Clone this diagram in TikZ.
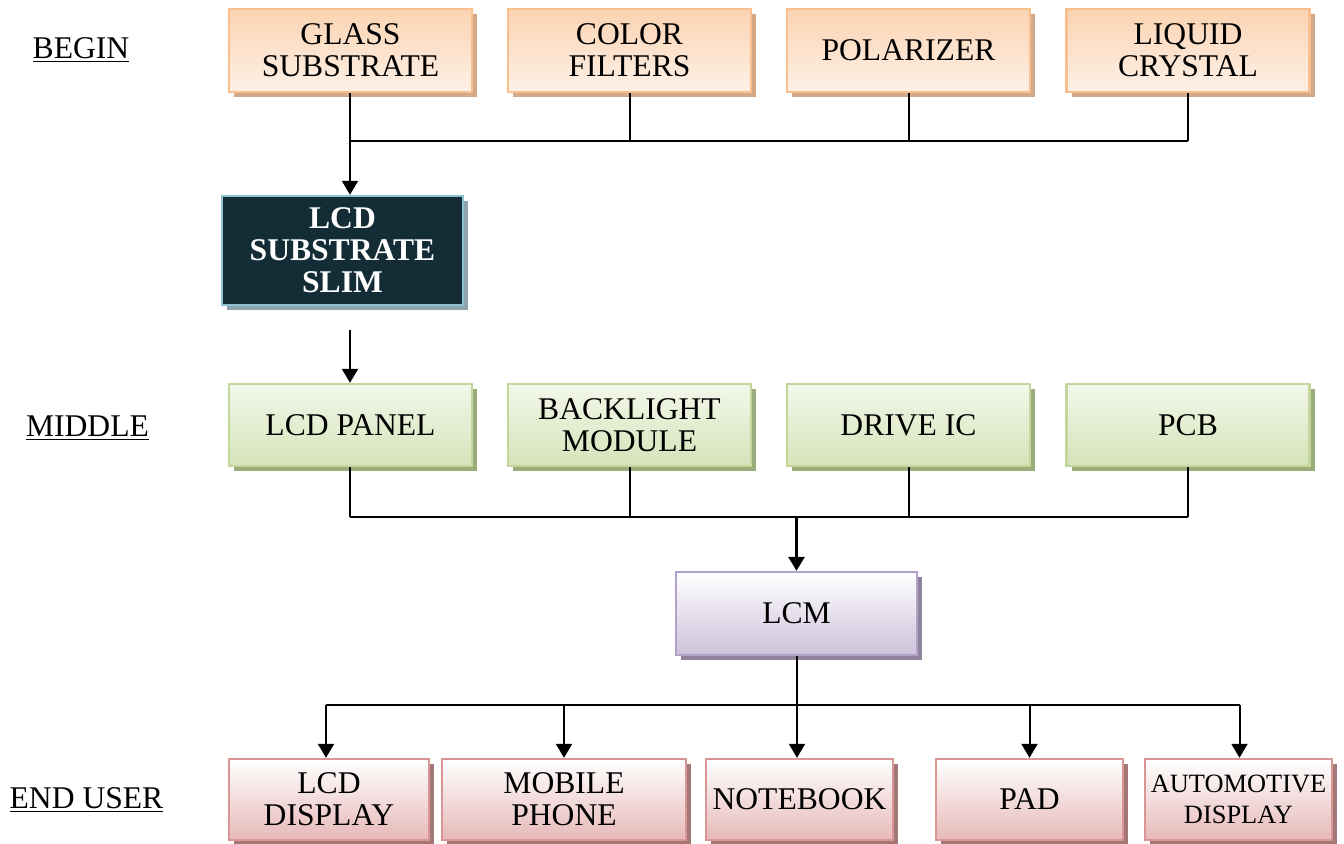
\documentclass[tikz,border=0pt]{standalone}
\usepackage{fontspec}
\setmainfont{Liberation Serif}
\usetikzlibrary{shadows,arrows.meta}
\definecolor{orB}{HTML}{F9BF8F}
\definecolor{orT}{HTML}{FBD3B2}
\definecolor{orL}{HTML}{FEF1E7}
\definecolor{orS}{HTML}{D3A987}
\definecolor{grB}{HTML}{C3D69B}
\definecolor{grT}{HTML}{F3F7EA}
\definecolor{grL}{HTML}{D5E3B9}
\definecolor{grS}{HTML}{9CAB7A}
\definecolor{dkF}{HTML}{132C36}
\definecolor{dkB}{HTML}{8CC4D2}
\definecolor{dkS}{HTML}{8FA4AF}
\definecolor{lcB}{HTML}{B3A2C8}
\definecolor{lcL}{HTML}{CDC2DB}
\definecolor{lcS}{HTML}{8F849B}
\definecolor{pkB}{HTML}{D99694}
\definecolor{pkL}{HTML}{E6B9B8}
\definecolor{pkS}{HTML}{A37776}
\tikzset{
  base/.style={draw, line width=1.2pt, inner sep=0pt, align=center,
    font=\fontsize{15.8}{16}\selectfont},
  orbox/.style={base, draw=orB, top color=orT, bottom color=orL,
    minimum width=121.5pt, minimum height=41.5pt,
    drop shadow={shadow xshift=2.5pt, shadow yshift=-2.5pt, fill=orS, opacity=1}},
  grbox/.style={base, draw=grB, top color=grT, bottom color=grL,
    minimum width=121.5pt, minimum height=41pt,
    drop shadow={shadow xshift=2.5pt, shadow yshift=-2.5pt, fill=grS, opacity=1}},
  dkbox/.style={base, draw=dkB, fill=dkF, text=white,
    font=\fontsize{15.8}{16}\selectfont\bfseries,
    minimum width=120.5pt, minimum height=54.5pt,
    drop shadow={shadow xshift=2.5pt, shadow yshift=-2.5pt, fill=dkS, opacity=1}},
  lcbox/.style={base, draw=lcB, top color=white, bottom color=lcL,
    minimum width=120.5pt, minimum height=41.5pt,
    drop shadow={shadow xshift=2.5pt, shadow yshift=-2.5pt, fill=lcS, opacity=1}},
  pkbox/.style={base, draw=pkB, top color=white, bottom color=pkL,
    minimum height=40.5pt,
    drop shadow={shadow xshift=2.5pt, shadow yshift=-2.5pt, fill=pkS, opacity=1}},
  lbl/.style={inner sep=0pt, font=\fontsize{15.8}{16}\selectfont},
  conn/.style={line width=1pt},
  arr/.style={line width=1pt, -{Triangle[width=8pt,length=7pt]}},
}
\begin{document}
\begin{tikzpicture}[x=0.5pt,y=-0.5pt]
\useasboundingbox (0,0) rectangle (1344,843);
% row 1
\node[orbox] (g1) at (350.5,50.5) {GLASS\\SUBSTRATE};
\node[orbox] (g2) at (629.5,50.5) {COLOR\\FILTERS};
\node[orbox] (g3) at (908.5,50.5) {POLARIZER};
\node[orbox] (g4) at (1188,50.5) {LIQUID\\CRYSTAL};
\node[dkbox] (sub) at (342.5,250.5) {LCD\\SUBSTRATE\\SLIM};
% row 2
\node[grbox] (m1) at (350.5,425) {LCD PANEL};
\node[grbox] (m2) at (629.5,425) {BACKLIGHT\\MODULE};
\node[grbox] (m3) at (908.5,425) {DRIVE IC};
\node[grbox] (m4) at (1188,425) {PCB};
\node[lcbox] (lcm) at (796.5,613.5) {LCM};
% row 3
\node[pkbox, minimum width=100pt] (e1) at (329,799.5) {LCD\\DISPLAY};
\node[pkbox, minimum width=122pt] (e2) at (564,799.5) {MOBILE\\PHONE};
\node[pkbox, minimum width=93.5pt] (e3) at (799.5,799.5) {NOTEBOOK};
\node[pkbox, minimum width=93.5pt] (e4) at (1029.5,799.5) {PAD};
\node[pkbox, minimum width=93.5pt, font=\fontsize{13.2}{15.5}\selectfont] (e5) at (1238.5,799.5) {AUTOMOTIVE\\DISPLAY};
% labels
\node[lbl] (lb1) at (81,50) {\underline{BEGIN}};
\node[lbl] (lb2) at (87.5,428) {\underline{MIDDLE}};
\node[lbl] (lb3) at (86.5,800) {\underline{END USER}};
% bus coordinates
\coordinate (bus1) at (350,141);
\coordinate (bus2) at (350,517);
\coordinate (bus3) at (797,705);
\coordinate (c1) at (350,330);
% top connectors
\draw[conn] (g1.south -| bus1) -- (bus1);
\draw[conn] (g2.south) -- (g2.south |- bus1);
\draw[conn] (g3.south) -- (g3.south |- bus1);
\draw[conn] (g4.south) -- (g4.south |- bus1);
\draw[conn] (bus1) -- (bus1 -| g4.south);
\draw[arr] (bus1) -- (bus1 |- sub.north);
\draw[arr] (c1) -- (c1 |- m1.north);
% middle connectors
\draw[conn] (m1.south -| bus2) -- (bus2);
\draw[conn] (m2.south) -- (m2.south |- bus2);
\draw[conn] (m3.south) -- (m3.south |- bus2);
\draw[conn] (m4.south) -- (m4.south |- bus2);
\draw[conn] (bus2) -- (bus2 -| m4.south);
\draw[arr, line width=1.5pt] (bus2 -| lcm.north) -- (lcm.north);
% bottom connectors
\draw[conn] (lcm.south -| bus3) -- (bus3);
\draw[conn] ([xshift=-1.5pt]bus3 -| e1.north) -- ([xshift=0.5pt]bus3 -| e5.north);
\draw[arr] ([xshift=-1.5pt]bus3 -| e1.north) -- ([xshift=-1.5pt]e1.north);
\draw[arr] (bus3 -| e2.north) -- (e2.north);
\draw[arr] (bus3) -- (bus3 |- e3.north);
\draw[arr] (bus3 -| e4.north) -- (e4.north);
\draw[arr] ([xshift=0.5pt]bus3 -| e5.north) -- ([xshift=0.5pt]e5.north);
\end{tikzpicture}
\end{document}
